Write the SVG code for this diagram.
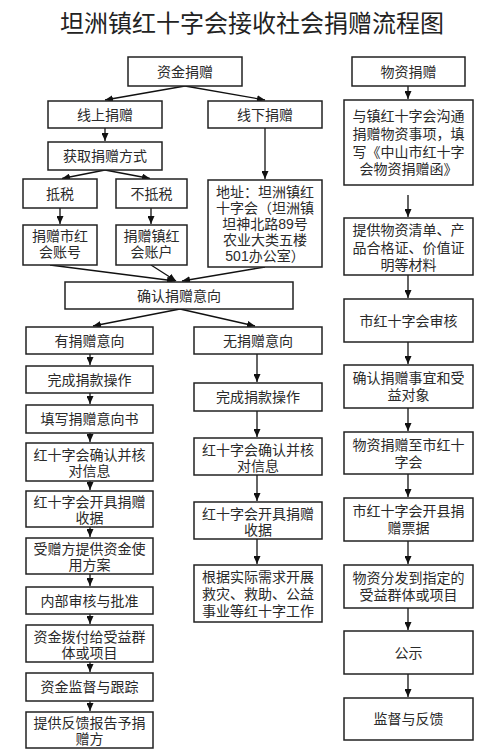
<svg xmlns="http://www.w3.org/2000/svg" width="500" height="754" viewBox="0 0 500 754">
<defs>
<marker id="ah" markerUnits="userSpaceOnUse" markerWidth="8" markerHeight="7" refX="8" refY="3.5" orient="auto">
<path d="M0,0 L8,3.5 L0,7 z" fill="#111"/>
</marker>
<style>
rect{fill:#fff;stroke:#222;stroke-width:1.5}
text{font-family:"Liberation Sans","Noto Sans CJK SC",sans-serif;font-size:14px;fill:#2a2a2a;text-anchor:middle}
.title{font-size:24px;fill:#222}
#connectors line{stroke:#111;stroke-width:1.3;marker-end:url(#ah)}
</style>
</defs>
<rect x="0" y="0" width="500" height="754" style="fill:#fff;stroke:none"/>
<text class="title" x="252" y="32">坦洲镇红十字会接收社会捐赠流程图</text>

<g id="connectors">
<line x1="185" y1="86" x2="105" y2="100"/>
<line x1="185" y1="86" x2="265" y2="100"/>
<line x1="105" y1="128" x2="105" y2="141"/>
<line x1="265" y1="128" x2="265" y2="179"/>
<line x1="105" y1="170" x2="62" y2="178.5"/>
<line x1="105" y1="170" x2="150" y2="178.5"/>
<line x1="60" y1="208" x2="60" y2="224"/>
<line x1="151" y1="208" x2="151" y2="224"/>
<line x1="50" y1="265" x2="175" y2="281"/>
<line x1="151" y1="265" x2="176" y2="281"/>
<line x1="265" y1="267" x2="182" y2="281"/>
<line x1="180" y1="309" x2="93" y2="326"/>
<line x1="180" y1="309" x2="255" y2="326"/>
<line x1="90" y1="354" x2="90" y2="365"/>
<line x1="90" y1="393" x2="90" y2="404"/>
<line x1="90" y1="433" x2="90" y2="442"/>
<line x1="90" y1="481" x2="90" y2="490"/>
<line x1="90" y1="527" x2="90" y2="537"/>
<line x1="90" y1="574" x2="90" y2="586"/>
<line x1="90" y1="614" x2="90" y2="624"/>
<line x1="90" y1="662" x2="90" y2="672"/>
<line x1="90" y1="701" x2="90" y2="711"/>
<line x1="257" y1="354" x2="257" y2="382"/>
<line x1="257" y1="411" x2="257" y2="437"/>
<line x1="257" y1="475" x2="257" y2="501"/>
<line x1="257" y1="539" x2="257" y2="564"/>
<line x1="408" y1="86" x2="408" y2="99"/>
<line x1="408" y1="195" x2="408" y2="217"/>
<line x1="408" y1="275" x2="408" y2="298"/>
<line x1="408" y1="342" x2="408" y2="364"/>
<line x1="408" y1="408" x2="408" y2="431"/>
<line x1="408" y1="474" x2="408" y2="497"/>
<line x1="408" y1="541" x2="408" y2="564"/>
<line x1="408" y1="608" x2="408" y2="630"/>
<line x1="408" y1="674" x2="408" y2="697"/>
</g>

<g id="n1"><rect x="128" y="57" width="114" height="29"/><text x="185" y="76.5">资金捐赠</text></g>
<g id="n2"><rect x="48" y="101" width="114" height="27"/><text x="105" y="119.5">线上捐赠</text></g>
<g id="n3"><rect x="208" y="101" width="114" height="27"/><text x="265" y="119.5">线下捐赠</text></g>
<g id="n4"><rect x="48" y="142" width="114" height="28"/><text x="105" y="161">获取捐赠方式</text></g>
<g id="n5"><rect x="23" y="179" width="74" height="29"/><text x="60" y="198.5">抵税</text></g>
<g id="n6"><rect x="116" y="179" width="71" height="29"/><text x="151.5" y="198.5">不抵税</text></g>
<g id="n7"><rect x="208" y="180" width="114" height="87"/><text x="265"><tspan x="265" y="197">地址：坦洲镇红</tspan><tspan x="265" y="213">十字会（坦洲镇</tspan><tspan x="265" y="229">坦神北路89号</tspan><tspan x="265" y="245">农业大类五楼</tspan><tspan x="265" y="261">501办公室）</tspan></text></g>
<g id="n8"><rect x="23" y="225" width="74" height="40"/><text x="60"><tspan x="60" y="241">捐赠市红</tspan><tspan x="60" y="257">会账号</tspan></text></g>
<g id="n9"><rect x="116" y="225" width="71" height="40"/><text x="151.5"><tspan x="151.5" y="241">捐赠镇红</tspan><tspan x="151.5" y="257">会账户</tspan></text></g>
<g id="n10"><rect x="65" y="282" width="228" height="27"/><text x="179" y="300.5">确认捐赠意向</text></g>
<g id="n11"><rect x="26" y="327" width="127" height="27"/><text x="89.5" y="345.5">有捐赠意向</text></g>
<g id="n12"><rect x="194" y="327" width="128" height="27"/><text x="258" y="345.5">无捐赠意向</text></g>
<g id="n13"><rect x="26" y="366" width="127" height="27"/><text x="89.5" y="384.5">完成捐款操作</text></g>
<g id="n14"><rect x="26" y="405" width="127" height="28"/><text x="89.5" y="424">填写捐赠意向书</text></g>
<g id="n15"><rect x="26" y="443" width="127" height="38"/><text><tspan x="89.5" y="460">红十字会确认并核</tspan><tspan x="89.5" y="476">对信息</tspan></text></g>
<g id="n16"><rect x="26" y="491" width="127" height="36"/><text><tspan x="89.5" y="507">红十字会开具捐赠</tspan><tspan x="89.5" y="523">收据</tspan></text></g>
<g id="n17"><rect x="26" y="538" width="127" height="36"/><text><tspan x="89.5" y="554">受赠方提供资金使</tspan><tspan x="89.5" y="570">用方案</tspan></text></g>
<g id="n18"><rect x="26" y="587" width="127" height="27"/><text x="89.5" y="605.5">内部审核与批准</text></g>
<g id="n19"><rect x="26" y="625" width="127" height="37"/><text><tspan x="89.5" y="641.5">资金拨付给受益群</tspan><tspan x="89.5" y="657.5">体或项目</tspan></text></g>
<g id="n20"><rect x="26" y="673" width="127" height="28"/><text x="89.5" y="692">资金监督与跟踪</text></g>
<g id="n21"><rect x="26" y="712" width="127" height="36"/><text><tspan x="89.5" y="728">提供反馈报告予捐</tspan><tspan x="89.5" y="744">赠方</tspan></text></g>
<g id="n22"><rect x="194" y="383" width="128" height="28"/><text x="258" y="402">完成捐款操作</text></g>
<g id="n23"><rect x="194" y="438" width="128" height="37"/><text><tspan x="258" y="454.5">红十字会确认并核</tspan><tspan x="258" y="470.5">对信息</tspan></text></g>
<g id="n24"><rect x="194" y="502" width="128" height="37"/><text><tspan x="258" y="518.5">红十字会开具捐赠</tspan><tspan x="258" y="534.5">收据</tspan></text></g>
<g id="n25"><rect x="194" y="565" width="128" height="57"/><text><tspan x="258" y="582">根据实际需求开展</tspan><tspan x="258" y="599">救灾、救助、公益</tspan><tspan x="258" y="616">事业等红十字工作</tspan></text></g>
<g id="n26"><rect x="352" y="57" width="113" height="29"/><text x="408.5" y="76.5">物资捐赠</text></g>
<g id="n27"><rect x="344" y="100" width="129" height="85"/><text><tspan x="408.5" y="121">与镇红十字会沟通</tspan><tspan x="408.5" y="139">捐赠物资事项，填</tspan><tspan x="408.5" y="157">写《中山市红十字</tspan><tspan x="408.5" y="174">会物资捐赠函》</tspan></text></g>
<g id="n28"><rect x="344" y="218" width="129" height="57"/><text><tspan x="408.5" y="235">提供物资清单、产</tspan><tspan x="408.5" y="252.5">品合格证、价值证</tspan><tspan x="408.5" y="269.5">明等材料</tspan></text></g>
<g id="n29"><rect x="344" y="299" width="129" height="43"/><text x="408.5" y="325.5">市红十字会审核</text></g>
<g id="n30"><rect x="344" y="365" width="129" height="43"/><text><tspan x="408.5" y="383">确认捐赠事宜和受</tspan><tspan x="408.5" y="400">益对象</tspan></text></g>
<g id="n31"><rect x="344" y="432" width="129" height="42"/><text><tspan x="408.5" y="450">物资捐赠至市红十</tspan><tspan x="408.5" y="467">字会</tspan></text></g>
<g id="n32"><rect x="344" y="498" width="129" height="43"/><text><tspan x="408.5" y="516">市红十字会开县捐</tspan><tspan x="408.5" y="533">赠票据</tspan></text></g>
<g id="n33"><rect x="344" y="565" width="129" height="43"/><text><tspan x="408.5" y="583">物资分发到指定的</tspan><tspan x="408.5" y="600">受益群体或项目</tspan></text></g>
<g id="n34"><rect x="344" y="631" width="129" height="43"/><text x="408.5" y="657.5">公示</text></g>
<g id="n35"><rect x="344" y="698" width="129" height="42"/><text x="408.5" y="724">监督与反馈</text></g>
</svg>
